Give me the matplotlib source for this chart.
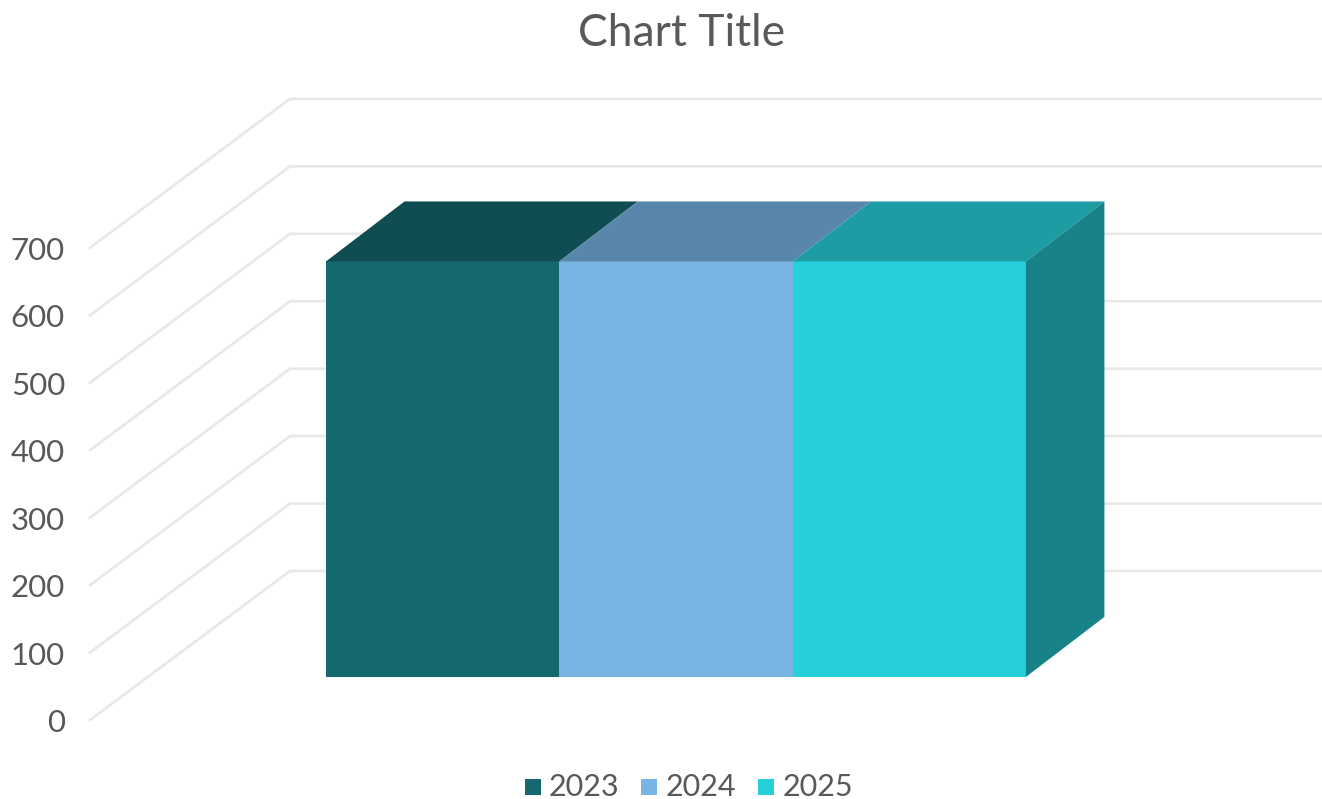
"""Recreate a 3D clustered column chart using a plain 2D axes and an oblique projection."""

import matplotlib
matplotlib.use("Agg")
import matplotlib.pyplot as plt
from matplotlib.patches import Polygon

W, H = 1322, 799

series = ["2023", "2024", "2025"]
values = [616, 616, 616]
y_ticks = [0, 100, 200, 300, 400, 500, 600, 700]
front_colors = ["#13696F", "#78B5E4", "#26CFDA"]
top_colors = ["#0F4D53", "#5987AB", "#1D9CA4"]
side_color = "#178287"

# projection: pixel position of the front floor corner, value scale, depth vector
X0, Y0 = 90, 720
PX_PER_UNIT = 67.45 / 100
DEPTH_DX, DEPTH_DY = 200, -149
BAR_LEFT, BAR_W = 326, 233.3
BAR_FLOOR_D = 0.289       # depth of the bar's front face
BAR_BACK_DX, BAR_BACK_DY = 78.5, -60
WALL_RIGHT = 1322

plt.rcParams["font.family"] = ["Lato", "DejaVu Sans"]
TXT = "#595959"
GRID = "#E8E8E8"


def proj(x, val, d):
    """x in pixels along the front, val in data units, d in 0..1 depth."""
    return x + DEPTH_DX * d, Y0 - val * PX_PER_UNIT + DEPTH_DY * d


def back(p):
    return p[0] + BAR_BACK_DX, p[1] + BAR_BACK_DY


fig = plt.figure(figsize=(W / 100, H / 100), dpi=100)
ax = fig.add_axes([0, 0, 1, 1])
ax.set_xlim(0, W)
ax.set_ylim(H, 0)
ax.axis("off")

for t in y_ticks:
    a = proj(X0, t, 0)
    b = proj(X0, t, 1)
    c = (WALL_RIGHT, b[1])
    ax.plot([a[0], b[0], c[0]], [a[1], b[1], c[1]], color=GRID, lw=1.9, solid_joinstyle="miter", zorder=1)
    ax.text(65, a[1] + 3, str(t), ha="right", va="center", fontsize=22.5, color=TXT)

x_off = DEPTH_DX * BAR_FLOOR_D
for i, (name, v) in enumerate(zip(series, values)):
    x1 = BAR_LEFT + i * BAR_W - x_off
    x2 = x1 + BAR_W
    front = [proj(x1, 0, BAR_FLOOR_D), proj(x2, 0, BAR_FLOOR_D),
             proj(x2, v, BAR_FLOOR_D), proj(x1, v, BAR_FLOOR_D)]
    top = [front[3], front[2], back(front[2]), back(front[3])]
    ax.add_patch(Polygon(front, closed=True, fc=front_colors[i], ec="none", zorder=3))
    ax.add_patch(Polygon(top, closed=True, fc=top_colors[i], ec="none", zorder=3))
    if i == len(series) - 1:
        side = [front[1], back(front[1]), back(front[2]), front[2]]
        ax.add_patch(Polygon(side, closed=True, fc=side_color, ec="none", zorder=3))

ax.text(682, 34, "Chart Title", ha="center", va="center", fontsize=32, color=TXT)

# legend
for sx, tx, name, c in zip([525, 641, 758], [549, 666, 783], series, front_colors):
    ax.add_patch(Polygon([(sx, 779), (sx + 16, 779), (sx + 16, 795), (sx, 795)], closed=True, fc=c, ec="none"))
    ax.text(tx, 787, name, ha="left", va="center", fontsize=22, color=TXT)

fig.savefig("out.png", dpi=100)
